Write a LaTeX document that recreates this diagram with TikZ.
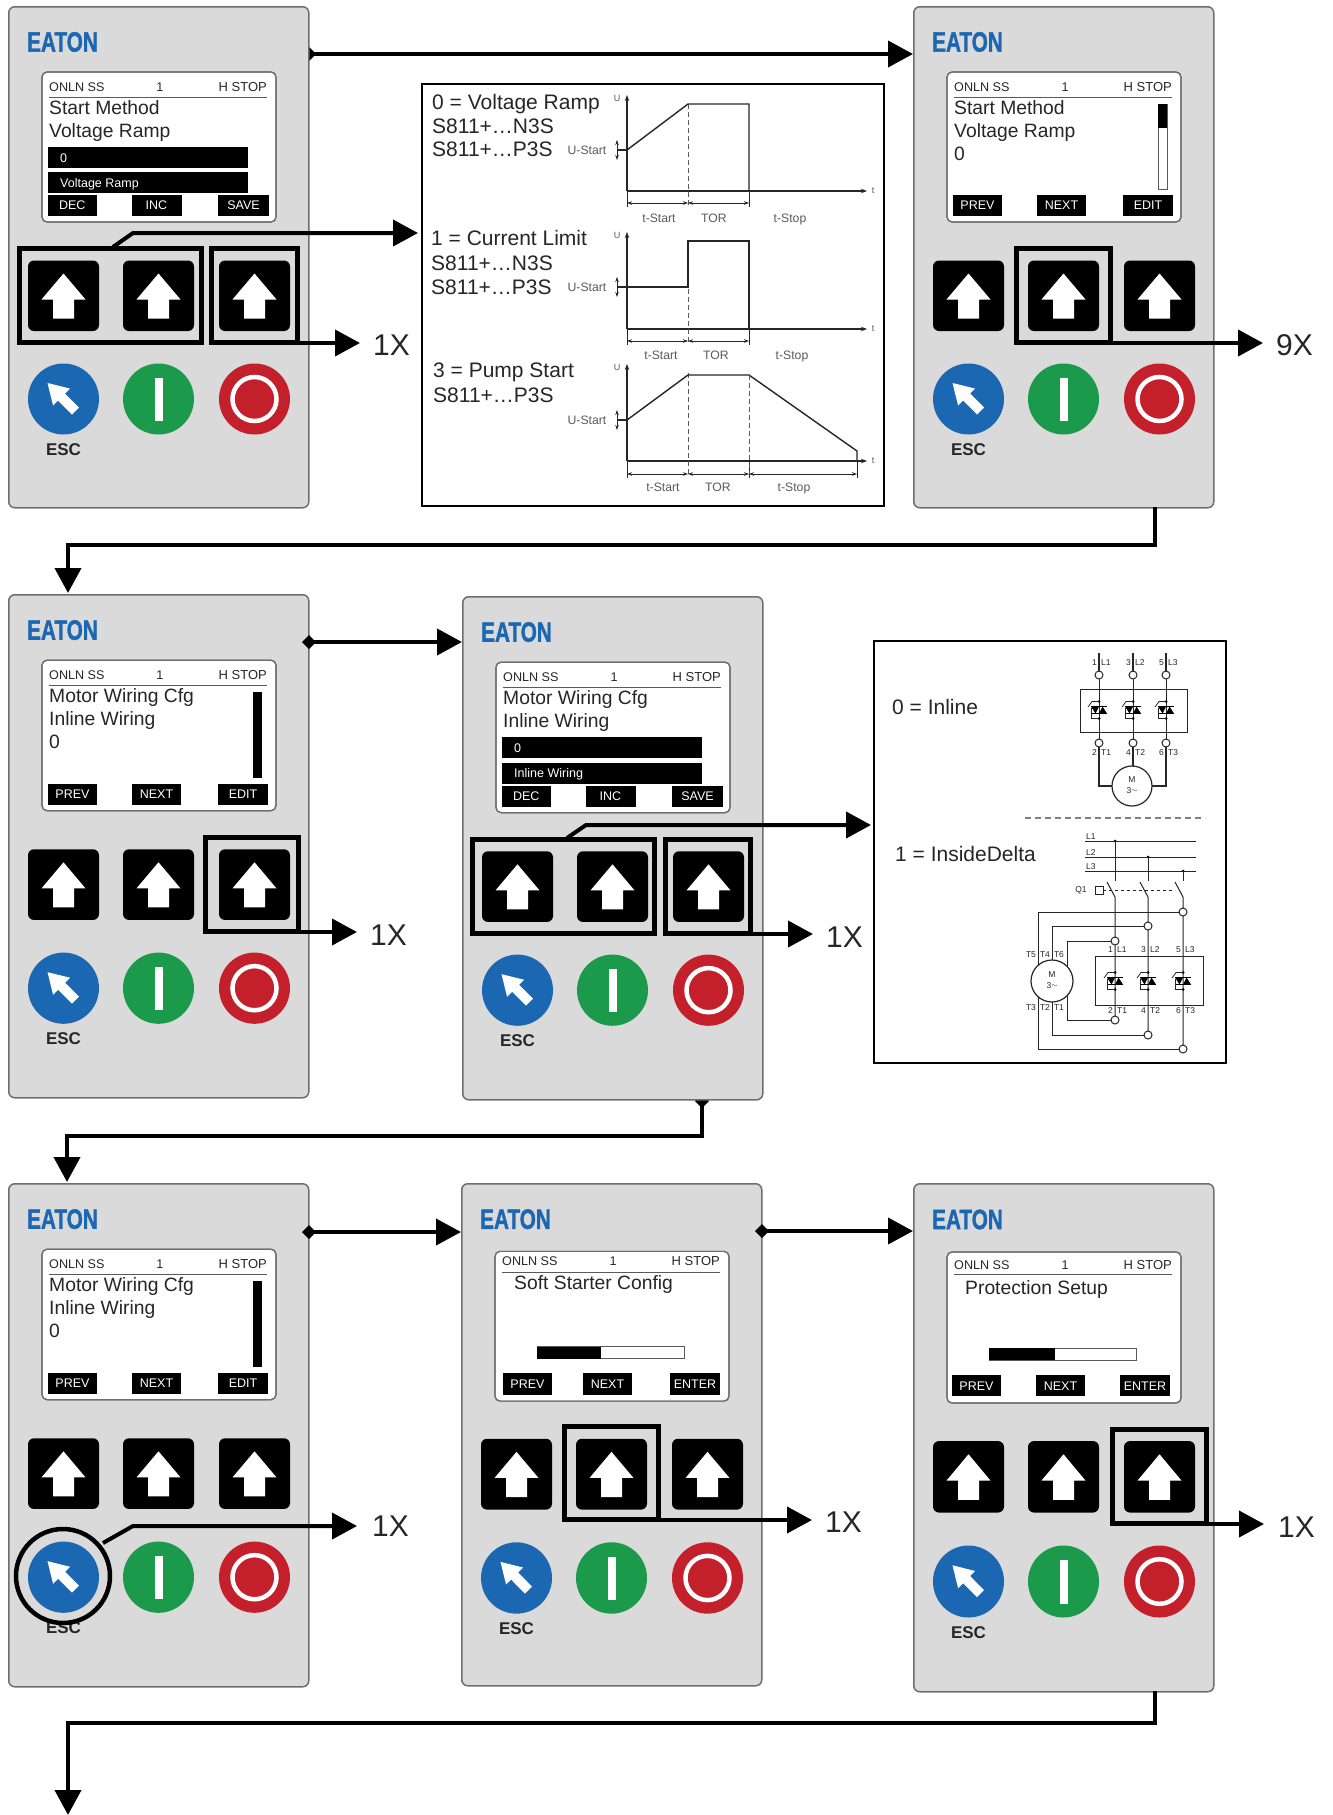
\documentclass[tikz,border=0pt]{standalone}
\usepackage{fontspec}
\setmainfont{Liberation Sans}
\newfontfamily\logofont[BoldFeatures={FakeBold=1.6}]{Liberation Sans}
\usetikzlibrary{arrows.meta}
\pgfdeclarelayer{back}
\pgfsetlayers{back,main}
\definecolor{pgrey}{HTML}{DADADA}
\definecolor{pedge}{HTML}{6E6E6E}
\definecolor{eblue}{HTML}{1B67B2}
\definecolor{egreen}{HTML}{1A9A4A}
\definecolor{ered}{HTML}{C4202C}
\definecolor{ink}{HTML}{262626}
\definecolor{soft}{HTML}{5A5A5A}
\newcommand{\fsz}[1]{\fontsize{#1}{#1}\selectfont}
\tikzset{
  panelbox/.style={draw=pedge,fill=pgrey,line width=1.5pt,rounded corners=6pt,minimum width=300pt,inner sep=0pt,anchor=north west},
  logotext/.style={text=eblue,font=\logofont\fsz{28}\bfseries,inner sep=0pt},
  escl/.style={text=ink,font=\fsz{17}\bfseries,inner sep=0pt},
  screenbox/.style={draw=pedge,fill=white,line width=1.2pt,rounded corners=5pt},
  stl/.style={text=ink,font=\fsz{12.6},inner sep=0pt},
  ttl/.style={text=ink,font=\fsz{19.3},inner sep=0pt,anchor=west,text height=13.7pt,text depth=0pt},
  bartxt/.style={text=white,font=\fsz{12.5},inner sep=0pt,anchor=west,text height=9pt,text depth=0pt},
  softkey/.style={fill=black,text=white,font=\fsz{12.5},inner sep=0pt,minimum height=21pt},
  hlbox/.style={draw=black,line width=5pt,inner sep=0pt},
  conn/.style={draw=black,line width=4pt,-{Triangle[length=25pt,width=26pt]}},
  dconn/.style={draw=black,line width=4pt,{Diamond[length=14pt,width=14pt]}-{Triangle[length=25pt,width=26pt]}},
  xl/.style={text=ink,font=\fsz{30},inner sep=0pt,anchor=west},
  frameb/.style={draw=black,fill=white,line width=2.5pt,inner sep=0pt},
  big/.style={text=ink,font=\fsz{21},inner sep=0pt,anchor=west,text height=15pt,text depth=0pt},
  ax/.style={draw=ink,line width=1.4pt},
  axar/.style={ax,-{Stealth[length=6pt,width=4.5pt]}},
  dm/.style={draw=ink,line width=.8pt,{Stealth[length=5pt,width=3.5pt]}-{Stealth[length=5pt,width=3.5pt]}},
  dsh/.style={draw=soft,line width=.7pt,dash pattern=on 5pt off 3pt},
  chl/.style={text=soft,font=\fsz{12.2},inner sep=0pt,text height=8.8pt,text depth=0pt},
  tnl/.style={text=ink,font=\fsz{9},inner sep=0pt},
  wr/.style={draw=ink,line width=1pt},
  term/.style={draw=ink,fill=white,line width=1pt,circle,inner sep=0pt,minimum size=8pt},
  wl/.style={text=ink,font=\fsz{8.5},inner sep=0pt},
}
% panel body: name, x, y, height, yscale
\newcommand{\pnl}[5]{%
  \node[panelbox,minimum height=#4pt] (#1) at (#2,#3) {};
  \begin{scope}[shift={(#2,#3)},yscale=#5]
    \node[logotext] (#1-logo) at (54.5,36) {\scalebox{.74}[1]{EATON}};
    \foreach \cx in {55.5,150.5,246.5}{
      \fill[black,rounded corners=6pt] (\cx-35.5,254.5) rectangle (\cx+35.5,325);
      \fill[white] (\cx,267.5)--(\cx+22,293.5)--(\cx+10.5,293.5)--(\cx+10.5,312.5)--(\cx-10.5,312.5)--(\cx-10.5,293.5)--(\cx-22,293.5)--cycle;
    }
    \fill[eblue] (55.5,393) circle[radius=35.5];
    \fill[white] (39.5,377)--(62.1,382.6)--(57.1,387.6)--(71,401.5)--(64,408.5)--(50.1,394.6)--(45.1,399.6)--cycle;
    \fill[egreen] (150.5,393) circle[radius=35.5];
    \fill[white] (146.5,372) rectangle (154.5,415);
    \fill[ered] (246.5,393) circle[radius=35.5];
    \draw[white,line width=4.5pt] (246.5,393) circle[radius=22];
    \node[escl] (#1-esc) at (55.5,443.5) {ESC};
  \end{scope}}
% status line: name, y, rule y
\newcommand{\stat}[3]{%
  \node[stl,anchor=west] (#1-s1) at (41,#2) {ONLN SS};
  \node[stl] (#1-s2) at (152,#2) {1};
  \node[stl,anchor=east,font=\fsz{13}] (#1-s3) at (259,#2) {H STOP};
  \draw[soft,line width=1pt] (41,#3)--(259,#3);}
% edit screen: name,x,y,yscale,title1,title2,value,bar text
\newcommand{\scrE}[8]{%
  \begin{scope}[shift={(#2,#3)},yscale=#4]
    \fill[screenbox] (34,66) rectangle (268,216);
    \draw[screenbox,fill=none] (34,66) rectangle (268,216);
    \stat{#1}{81}{91}
    \node[ttl] (#1-t1) at (41,101.5) {#5};
    \node[ttl] (#1-t2) at (41,124.5) {#6};
    \fill[black] (40,141) rectangle (240,162);
    \fill[black] (40,166) rectangle (240,187);
    \node[bartxt] (#1-v) at (52,151.5) {#7};
    \node[bartxt] (#1-b) at (52,176.5) {#8};
    \path[fill=black] (39.5,189) rectangle (89,210);
    \path[fill=black] (123.5,189) rectangle (173.5,210);
    \path[fill=black] (210,189) rectangle (261,210);
    \node[softkey,fill=none] (#1-k1) at (64.2,199.5) {DEC};
    \node[softkey,fill=none] (#1-k2) at (148.5,199.5) {INC};
    \node[softkey,fill=none] (#1-k3) at (235.5,199.5) {SAVE};
  \end{scope}}
% menu screen: name,x,y,yscale,title1,title2,value
\newcommand{\scrM}[7]{%
  \begin{scope}[shift={(#2,#3)},yscale=#4]
    \fill[screenbox] (34,66) rectangle (268,216);
    \draw[screenbox,fill=none] (34,66) rectangle (268,216);
    \stat{#1}{81}{91}
    \node[ttl] (#1-t1) at (41,101.5) {#5};
    \node[ttl] (#1-t2) at (41,124.5) {#6};
    \node[ttl] (#1-t3) at (41,147.5) {#7};
    \path[fill=black] (40,189) rectangle (89,210);
    \path[fill=black] (124,189) rectangle (173,210);
    \path[fill=black] (210,189) rectangle (260,210);
    \node[softkey,fill=none] (#1-k1) at (64.5,199.5) {PREV};
    \node[softkey,fill=none] (#1-k2) at (148.5,199.5) {NEXT};
    \node[softkey,fill=none] (#1-k3) at (235,199.5) {EDIT};
  \end{scope}}
% config screen: name,x,y,yscale,title,title x,title y,status y,rule y
\newcommand{\scrC}[9]{%
  \begin{scope}[shift={(#2,#3)},yscale=#4]
    \fill[screenbox] (34,68) rectangle (268,217);
    \draw[screenbox,fill=none] (34,68) rectangle (268,217);
    \stat{#1}{#8}{#9}
    \node[ttl] (#1-t1) at (#6,#7) {#5};
    \fill[white] (76,163) rectangle (223,175);
    \draw[soft,line width=.8pt] (76,163) rectangle (223,175);
    \fill[black] (76,163) rectangle (\barx,175);
    \path[fill=black] (\keya,189.5) rectangle (\keya+49,210.5);
    \path[fill=black] (\keyb,189.5) rectangle (\keyb+49,210.5);
    \path[fill=black] (\keyc,189.5) rectangle (\keyc+50,210.5);
    \node[softkey,fill=none] (#1-k1) at (\keya+24.5,200) {PREV};
    \node[softkey,fill=none] (#1-k2) at (\keyb+24.5,200) {NEXT};
    \node[softkey,fill=none] (#1-k3) at (\keyc+25,200) {ENTER};
  \end{scope}}
% highlight box from its outer bounds: name,x1,y1,x2,y2
\newcommand{\hlb}[5]{%
  \node[hlbox,minimum width={(#4-#2-5)*1pt},minimum height={(#5-#3-5)*1pt}] (#1) at ({(#2+#4)/2},{(#3+#5)/2}) {};}
% chart axes: id,ytop,ybot,dim y,label y,label dx,ustart y
\newcommand{\chrt}[7]{%
  \draw[axar] (627,#3)--(627,#2);
  \draw[axar] (627,#3)--(867,#3);
  \node[tnl,text=soft] (#1-u) at (617,#2+3) {U};
  \node[tnl,text=soft] (#1-tt) at (873,#3) {t};
  \draw[dsh] (688,#2+9)--(688,#4+3);
  \draw[ax,line width=.8pt] (627,#3)--(627,#4+4);
  \draw[ax,line width=.8pt] (749,#3)--(749,#4+4);
  \draw[dm] (627,#4)--(688,#4);
  \draw[dm] (688,#4)--(749,#4);
  \node[chl] (#1-l1) at (659+#6,#5) {t-Start};
  \node[chl] (#1-l2) at (714+#6,#5) {TOR};
  \node[chl] (#1-l3) at (790+#6,#5) {t-Stop};
  \node[chl] (#1-us) at (587,#7) {U-Start};
  \draw[dm] (617,#7-10)--(617,#7+10);
  \draw[ax] (617,#7)--(627,#7);}
% thyristor pair with bypass, centred on a line
\newcommand{\thy}[2]{%
  \begin{scope}[shift={(#1,#2)}]
    \fill[black] (-8,-3.5)--(0,-3.5)--(-3.5,3.5)--cycle;
    \fill[black] (8,3.5)--(0,3.5)--(3.5,-3.5)--cycle;
    \draw[black,line width=1pt] (-8,-3.5)--(8,-3.5);
    \draw[black,line width=1pt] (-8,3.5)--(8,3.5);
    \fill[black] (0,-8.5) circle[radius=1.5];
    \fill[black] (0,8.5) circle[radius=1.5];
    \draw[wr,line width=.8pt] (0,-8.5)--(-7,-8.5)--(-11,-3);
    \draw[wr,line width=.8pt] (-8,-2)--(-8,8.5)--(0,8.5);
  \end{scope}}
\begin{document}
\begin{tikzpicture}[x=1pt,y=-1pt]
\useasboundingbox (0,0) rectangle (1333,1815);
% ---- panels
\pnl{p1}{8}{6}{501}{1}
\pnl{p2}{913}{6}{501}{1}
\pnl{p3}{8}{594}{503}{1.003}
\pnl{p4}{462}{596}{503}{1.003}
\pnl{p5}{8}{1183}{503}{1.003}
\pnl{p6}{461}{1183}{502}{1.005}
\pnl{p7}{913}{1183}{508}{1.014}
% ---- screens
\scrE{p1}{8}{6}{1}{Start Method}{Voltage Ramp}{0}{Voltage Ramp}
\scrM{p2}{913}{6}{1}{Start Method}{Voltage Ramp}{0}
\begin{scope}[shift={(913,6)}]
  \draw[soft,fill=white,line width=.6pt] (245,98) rectangle (254,183);
  \fill[black] (245,98) rectangle (254,122);
\end{scope}
\scrM{p3}{8}{594}{1.003}{Motor Wiring Cfg}{Inline Wiring}{0}
\fill[black] (253,692) rectangle (262,778);
\scrE{p4}{462}{596}{1.003}{Motor Wiring Cfg}{Inline Wiring}{0}{Inline Wiring}
\scrM{p5}{8}{1183}{1.003}{Motor Wiring Cfg}{Inline Wiring}{0}
\fill[black] (253,1281) rectangle (262,1367);
\def\barx{140}\def\keya{42}\def\keyb{122}\def\keyc{209}
\scrC{p6}{461}{1183}{1.005}{Soft Starter Config}{53}{99.5}{77.6}{88.6}
\def\barx{142}\def\keya{39}\def\keyb{123}\def\keyc{207}
\scrC{p7}{913}{1183}{1.014}{Protection Setup}{52}{103.6}{81}{90.7}
% ---- highlight boxes
\hlb{h1a}{17}{246}{204}{345}
\hlb{h1b}{209}{246}{300}{345}
\hlb{h2}{1014}{246}{1113}{345}
\hlb{h3}{203}{835}{301}{934}
\hlb{h4a}{470}{837}{657}{936}
\hlb{h4b}{663}{837}{753}{936}
\node[draw=black,line width=4.5pt,circle,inner sep=0pt,minimum size=94pt] (h5) at (63,1576) {};
\hlb{h6}{562}{1424}{661}{1522}
\hlb{h7}{1110}{1427}{1209}{1526}
% ---- repetition labels
\node[xl] (x1) at (373,345) {1X};
\node[xl] (x2) at (1276,345) {9X};
\node[xl] (x3) at (370,935) {1X};
\node[xl] (x4) at (826,937) {1X};
\node[xl] (x5) at (372,1526) {1X};
\node[xl] (x6) at (825,1522) {1X};
\node[xl] (x7) at (1278,1527) {1X};
% ---- chart frame
\node[frameb,minimum width=462pt,minimum height=422pt] (chart) at (653,295) {};
\node[big] (c1a) at (432,102) {0 = Voltage Ramp};
\node[big] (c1b) at (432,126) {S811+…N3S};
\node[big] (c1c) at (432,149) {S811+…P3S};
\node[big] (c2a) at (431,238) {1 = Current Limit};
\node[big] (c2b) at (431,263) {S811+…N3S};
\node[big] (c2c) at (431,287) {S811+…P3S};
\node[big] (c3a) at (433,370) {3 = Pump Start};
\node[big] (c3b) at (433,395) {S811+…P3S};
\chrt{g1}{95}{191}{203}{218}{0}{150}
\draw[ax] (627,150)--(688,104)--(749,104)--(749,191);
\chrt{g2}{232}{329}{341}{355}{2}{287}
\draw[ax] (617,287)--(688,287)--(688,241)--(749,241)--(749,329);
\chrt{g3}{364}{461}{474}{487}{4}{420}
\draw[ax] (627,420)--(688,375)--(749,375)--(857,451)--(857,461);
\draw[dsh] (749,375)--(749,474);
\draw[ax,line width=.8pt] (857,461)--(857,478);
\draw[dm] (749,474)--(857,474);
% ---- wiring frame
\node[frameb,minimum width=352pt,minimum height=422pt] (wire) at (1050,852) {};
\node[big] (w0) at (892,707) {0 = Inline};
\node[big] (w1) at (895,854) {1 = InsideDelta};
\draw[wr] (1080,689) rectangle (1187,732);
\foreach \lx/\a/\b/\c/\d in {1099/1/L1/2/T1,1133/3/L2/4/T2,1166/5/L3/6/T3}{
  \draw[wr,line width=1.3pt] (\lx,653)--(\lx,675);
  \draw[wr] (\lx,675)--(\lx,743);
  \node[term] at (\lx,675) {};
  \node[term] at (\lx,743) {};
  \node[wl,anchor=east] at (\lx-2,663) {\a};
  \node[wl,anchor=west] at (\lx+2,663) {\b};
  \node[wl,anchor=east] at (\lx-2,753) {\c};
  \node[wl,anchor=west] at (\lx+2,753) {\d};
  \thy{\lx}{710}
}
\draw[wr,line width=1.3pt] (1099,747)--(1099,786)--(1112,786);
\draw[wr,line width=1.3pt] (1166,747)--(1166,786)--(1152,786);
\draw[wr,line width=1.3pt] (1133,747)--(1133,766);
\node[draw=ink,fill=white,line width=1.2pt,circle,inner sep=0pt,minimum size=40pt] (m1) at (1132,786) {};
\node[wl] (m1a) at (1132,780) {M};
\node[wl] (m1b) at (1132,791) {3\raisebox{1pt}{\fsz{7}$\sim$}};
\draw[gray,line width=1.5pt,dash pattern=on 6pt off 4pt] (1025,818)--(1205,818);
% bottom circuit
\draw[wr] (1085,841)--(1196,841);
\draw[wr] (1085,857)--(1196,857);
\draw[wr] (1085,871)--(1196,871);
\node[wl,anchor=south west] (b1) at (1086,840) {L1};
\node[wl,anchor=south west] (b2) at (1086,856) {L2};
\node[wl,anchor=south west] (b3) at (1086,870) {L3};
\fill[black] (1115,841) circle[radius=1.5];
\fill[black] (1148,857) circle[radius=1.5];
\fill[black] (1183,871) circle[radius=1.5];
\foreach \lx/\ly/\top/\low/\lft/\a/\b/\c/\d in {1115/841/941/1020/1067/1/L1/2/T1,1148/857/926/1035/1052/3/L2/4/T2,1183/871/912/1049/1038/5/L3/6/T3}{
  \draw[wr] (\lx,\ly)--(\lx,881);
  \draw[wr] (\lx-8,882)--(\lx,897)--(\lx,\low);
  \draw[wr] (\lx,\top)--(\lft,\top)--(\lft,\low)--(\lx,\low);
  \node[term] at (\lx,\top) {};
  \node[term] at (\lx,\low) {};
  \node[wl,anchor=east] at (\lx-2,950) {\a};
  \node[wl,anchor=west] at (\lx+2,950) {\b};
  \node[wl,anchor=east] at (\lx-2,1011) {\c};
  \node[wl,anchor=west] at (\lx+2,1011) {\d};
  \thy{\lx}{981}
}
\draw[wr] (1095,956) rectangle (1203,1005);
\node[wl] (q1) at (1081,890) {Q1};
\draw[wr] (1095,886) rectangle (1103,894);
\draw[wr,dashed,line width=.8pt] (1103,890)--(1175,890);
\node[draw=ink,fill=white,line width=1.2pt,circle,inner sep=0pt,minimum size=42pt] (m2) at (1052,981) {};
\node[wl] (m2a) at (1052,975) {M};
\node[wl] (m2b) at (1052,986) {3\raisebox{1pt}{\fsz{7}$\sim$}};
\node[wl,fill=white,inner sep=.6pt] (t5) at (1031,955) {T5};
\node[wl,fill=white,inner sep=.6pt] (t4) at (1045,955) {T4};
\node[wl,fill=white,inner sep=.6pt] (t6) at (1059,955) {T6};
\node[wl,fill=white,inner sep=.6pt] (t3) at (1031,1008) {T3};
\node[wl,fill=white,inner sep=.6pt] (t2) at (1045,1008) {T2};
\node[wl,fill=white,inner sep=.6pt] (t1) at (1059,1008) {T1};
% ---- connectors
\coordinate (a1) at (302,54);
\coordinate (a1e) at (p2.west |- a1);
\begin{pgfonlayer}{back}
  \draw[dconn] (a1)--(a1e);
\end{pgfonlayer}
\coordinate (b1s) at (113,247); \coordinate (b1m) at (133,233); \coordinate (b1e) at (418,233);
\draw[conn] (b1s)--(b1m)--(b1e);
\coordinate (r1s) at (263,343); \coordinate (r1e) at (360,343);
\draw[conn] (r1s)--(r1e);
\coordinate (r2s) at (1072,343); \coordinate (r2e) at (1263,343);
\draw[conn] (r2s)--(r2e);
\coordinate (d1s) at (1155,507); \coordinate (d1m) at (1155,545); \coordinate (d1n) at (68,545); \coordinate (d1e) at (68,593);
\draw[conn] (d1s)--(d1m)--(d1n)--(d1e);
\coordinate (a3) at (302,642); \coordinate (a3e) at (p4.west |- a3);
\draw[dconn] (a3)--(a3e);
\coordinate (r3s) at (261,932); \coordinate (r3e) at (357,932);
\draw[conn] (r3s)--(r3e);
\coordinate (b4s) at (567,838); \coordinate (b4m) at (586,825); \coordinate (b4e) at (871,825);
\draw[conn] (b4s)--(b4m)--(b4e);
\coordinate (r4s) at (716,934); \coordinate (r4e) at (813,934);
\draw[conn] (r4s)--(r4e);
\coordinate (d2s) at (702,1094); \coordinate (d2m) at (702,1136); \coordinate (d2n) at (67,1136); \coordinate (d2e) at (67,1182);
\begin{pgfonlayer}{back}
  \draw[dconn] (d2s)--(d2m)--(d2n)--(d2e);
\end{pgfonlayer}
\coordinate (b5s) at (103,1543); \coordinate (b5m) at (133,1526); \coordinate (b5e) at (357,1526);
\draw[conn] (b5s)--(b5m)--(b5e);
\coordinate (a5) at (302,1232); \coordinate (a5e) at (p6.west |- a5);
\draw[dconn] (a5)--(a5e);
\coordinate (r6s) at (620,1520); \coordinate (r6e) at (812,1520);
\draw[conn] (r6s)--(r6e);
\coordinate (a6) at (755,1231); \coordinate (a6e) at (p7.west |- a6);
\draw[dconn] (a6)--(a6e);
\coordinate (r7s) at (1166,1524); \coordinate (r7e) at (1264,1524);
\draw[conn] (r7s)--(r7e);
\coordinate (d3s) at (1155,1691); \coordinate (d3m) at (1155,1723); \coordinate (d3n) at (68,1723); \coordinate (d3e) at (68,1815);
\draw[conn] (d3s)--(d3m)--(d3n)--(d3e);
\end{tikzpicture}
\end{document}
